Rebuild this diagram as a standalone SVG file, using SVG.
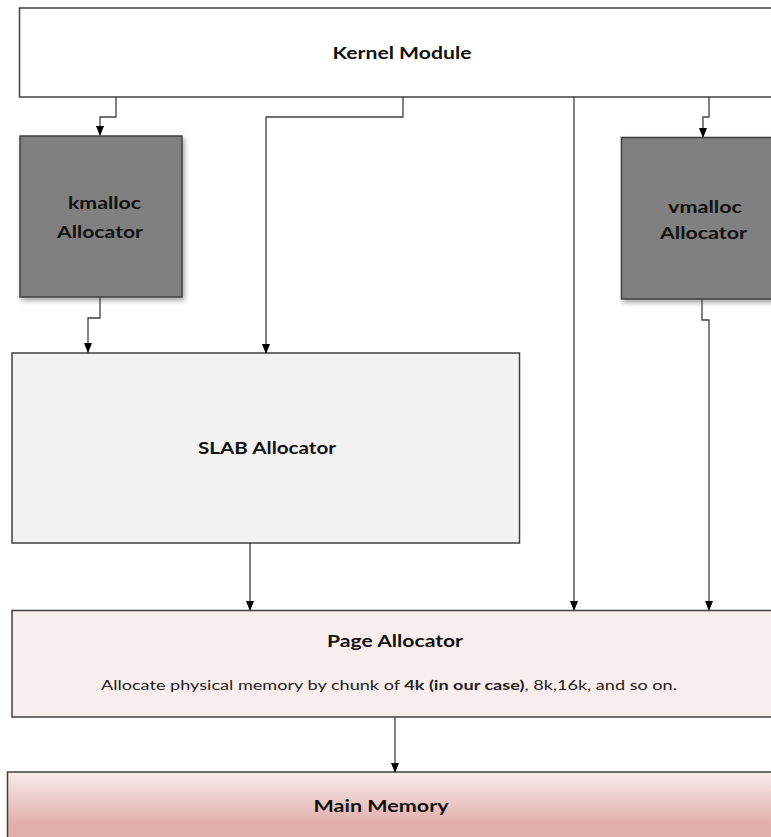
<svg xmlns="http://www.w3.org/2000/svg" width="771" height="837" viewBox="0 0 771 837">
<style>
  .box{stroke:#404040;stroke-width:1.5}
  .t{font-family:Lato,"Open Sans","Liberation Sans",sans-serif;font-weight:bold;fill:#111;text-anchor:middle;font-size:17.5px}
  .d{font-family:Lato,"Open Sans","Liberation Sans",sans-serif;fill:#222;font-size:14px;text-anchor:middle}
  .c{fill:none;stroke:#404040;stroke-width:1.3}
</style>
<defs>
  <marker id="arr" markerWidth="10" markerHeight="8" refX="9" refY="4" orient="auto" markerUnits="userSpaceOnUse">
    <path d="M0,0 L10,4 L0,8 Z" fill="#000"/>
  </marker>
  <filter id="sh" x="-10%" y="-10%" width="130%" height="130%">
    <feDropShadow dx="2" dy="3" stdDeviation="2.5" flood-color="#000" flood-opacity="0.35"/>
  </filter>
  <linearGradient id="mm" x1="0" y1="0" x2="0" y2="1">
    <stop offset="0" stop-color="#f7ecec"/>
    <stop offset="0.65" stop-color="#e1afab"/>
    <stop offset="1" stop-color="#e0aca8"/>
  </linearGradient>
</defs>

<g id="kernel-module">
  <rect class="box" x="19.5" y="8" width="760" height="89" fill="#ffffff"/>
  <text class="t" x="402" y="59" textLength="139" lengthAdjust="spacingAndGlyphs">Kernel Module</text>
</g>

<g id="kmalloc">
  <rect class="box" x="20" y="136" width="162" height="161" fill="#808080" filter="url(#sh)"/>
  <text class="t" x="104.5" y="209" textLength="73" lengthAdjust="spacingAndGlyphs">kmalloc</text>
  <text class="t" x="100" y="238" textLength="86" lengthAdjust="spacingAndGlyphs">Allocator</text>
</g>

<g id="vmalloc">
  <rect class="box" x="621.5" y="137.5" width="160" height="161.5" fill="#808080" filter="url(#sh)"/>
  <text class="t" x="705" y="213" textLength="74" lengthAdjust="spacingAndGlyphs">vmalloc</text>
  <text class="t" x="703.5" y="239" textLength="87" lengthAdjust="spacingAndGlyphs">Allocator</text>
</g>

<g id="slab">
  <rect class="box" x="12" y="353" width="507.5" height="190" fill="#f2f2f2"/>
  <text class="t" x="267" y="454" textLength="138" lengthAdjust="spacingAndGlyphs">SLAB Allocator</text>
</g>

<g id="page-allocator">
  <rect class="box" x="12" y="610.5" width="770" height="106.5" fill="#f9eeed"/>
  <text class="t" x="395" y="647" textLength="136" lengthAdjust="spacingAndGlyphs">Page Allocator</text>
  <text class="d" x="389" y="690" textLength="576" lengthAdjust="spacingAndGlyphs">Allocate physical memory by chunk of <tspan font-weight="bold">4k (in our case)</tspan>, 8k,16k, and so on.</text>
</g>

<g id="main-memory">
  <rect class="box" x="7.5" y="772" width="775" height="80" fill="url(#mm)"/>
  <text class="t" x="381" y="812" textLength="135" lengthAdjust="spacingAndGlyphs">Main Memory</text>
</g>

<g id="connectors">
  <path class="c" d="M116,97 V117 H100 V135" marker-end="url(#arr)"/>
  <path class="c" d="M403,97 V117 H266 V353" marker-end="url(#arr)"/>
  <path class="c" d="M574,97 V610" marker-end="url(#arr)"/>
  <path class="c" d="M709,97 V117 H703 V137" marker-end="url(#arr)"/>
  <path class="c" d="M100,297 V318 H88 V352" marker-end="url(#arr)"/>
  <path class="c" d="M702,299 V320 H709 V610" marker-end="url(#arr)"/>
  <path class="c" d="M250,543 V610" marker-end="url(#arr)"/>
  <path class="c" d="M395,717 V772" marker-end="url(#arr)"/>
</g>
</svg>
